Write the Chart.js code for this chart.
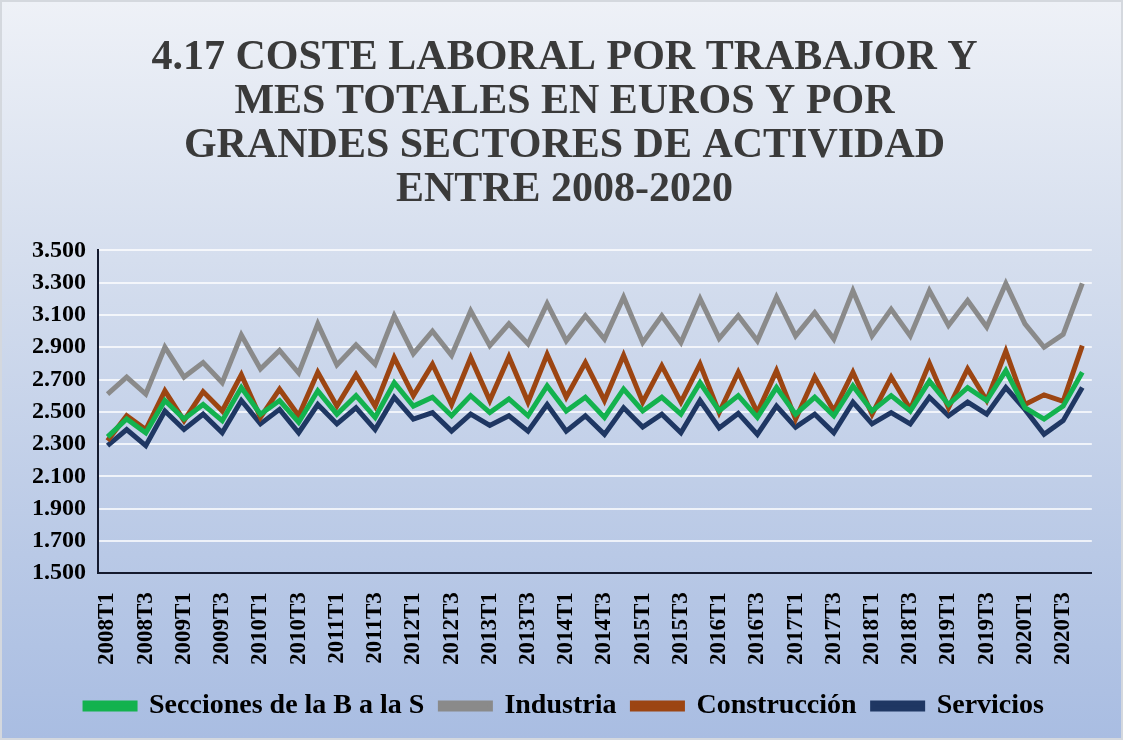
<!DOCTYPE html>
<html>
<head>
<meta charset="utf-8">
<script src="https://cdn.jsdelivr.net/npm/chart.js@4"></script>
<style>
  body { margin: 0; background: #fff; }
  #wrap {
    width: 1119px; height: 736px;
    border: 2px solid #d4d8de;
    background: linear-gradient(to bottom, #eef1f7 0%, #d5deee 35%, #b9c9e6 75%, #a9bde2 100%);
  }
  canvas { display: block; }
</style>
</head>
<body>
<div id="wrap"><canvas id="chart" width="1119" height="736"></canvas></div>
<script>
// ---- data ----
const quarters = [
  "2008T1","2008T2","2008T3","2008T4","2009T1","2009T2","2009T3","2009T4",
  "2010T1","2010T2","2010T3","2010T4","2011T1","2011T2","2011T3","2011T4",
  "2012T1","2012T2","2012T3","2012T4","2013T1","2013T2","2013T3","2013T4",
  "2014T1","2014T2","2014T3","2014T4","2015T1","2015T2","2015T3","2015T4",
  "2016T1","2016T2","2016T3","2016T4","2017T1","2017T2","2017T3","2017T4",
  "2018T1","2018T2","2018T3","2018T4","2019T1","2019T2","2019T3","2019T4",
  "2020T1","2020T2","2020T3","2020T4"
];

const seccionesBS = [2345,2455,2370,2570,2455,2545,2445,2650,2485,2570,2435,2630,2485,2600,2465,2680,
  2535,2590,2475,2600,2495,2580,2475,2660,2505,2590,2465,2640,2505,2590,2485,2680,
  2505,2600,2465,2650,2485,2590,2475,2660,2505,2600,2505,2690,2545,2650,2570,2755,
  2525,2455,2535,2745];

const industria = [2610,2715,2610,2900,2715,2805,2680,2975,2765,2880,2740,3045,2790,2915,2795,3095,
  2860,3000,2850,3125,2910,3045,2920,3170,2940,3095,2950,3210,2930,3095,2930,3200,
  2955,3095,2940,3210,2970,3115,2950,3250,2970,3135,2970,3250,3035,3190,3025,3295,
  3045,2900,2980,3295];

const construccion = [2320,2475,2390,2630,2445,2625,2505,2730,2465,2640,2475,2745,2535,2730,2535,2835,
  2600,2795,2545,2835,2570,2840,2560,2855,2590,2805,2570,2850,2560,2785,2560,2795,
  2495,2745,2495,2755,2455,2715,2505,2745,2485,2715,2515,2800,2525,2765,2570,2875,
  2545,2605,2565,2910];

const servicios = [2290,2390,2290,2505,2390,2485,2370,2570,2425,2515,2370,2545,2425,2525,2390,2590,
  2455,2495,2380,2485,2415,2475,2380,2545,2380,2475,2360,2525,2405,2485,2370,2570,
  2400,2490,2360,2535,2405,2485,2370,2560,2425,2495,2425,2590,2475,2560,2485,2650,
  2515,2360,2445,2650];

const yTicks = { min: 1500, max: 3500, step: 200 };

const serif = "'Liberation Serif', 'Times New Roman', serif";

function mkLine(label, data, color) {
  return {
    label: label,
    data: data,
    borderColor: color,
    backgroundColor: color,
    borderWidth: 5,
    pointRadius: 0,
    tension: 0
  };
}

new Chart(document.getElementById("chart"), {
  type: "line",
  data: {
    labels: quarters,
    datasets: [
      mkLine("Secciones de la B a la S", seccionesBS, "#13b24e"),
      mkLine("Industria", industria, "#8a8a8a"),
      mkLine("Construcción", construccion, "#9c4512"),
      mkLine("Servicios", servicios, "#1f3763")
    ]
  },
  options: {
    responsive: false,
    devicePixelRatio: 1,
    animation: false,
    layout: { padding: { left: 18, right: 12, top: 6, bottom: 8 } },
    plugins: {
      title: {
        display: true,
        text: [
          "4.17 COSTE LABORAL POR TRABAJOR Y",
          "MES TOTALES EN EUROS Y POR",
          "GRANDES SECTORES DE ACTIVIDAD",
          "ENTRE 2008-2020"
        ],
        color: "#3a3a3a",
        font: { family: serif, size: 42, weight: "bold", lineHeight: 1.05 },
        padding: { top: 28, bottom: 38 }
      },
      legend: {
        position: "bottom",
        labels: {
          color: "#000",
          font: { family: serif, size: 28, weight: "bold" },
          boxWidth: 50,
          boxHeight: 6,
          padding: 16
        }
      },
      tooltip: { enabled: false }
    },
    scales: {
      x: {
        offset: true,
        grid: { display: false },
        border: { color: "#141a2e", width: 2 },
        ticks: {
          autoSkip: false,
          minRotation: 90,
          maxRotation: 90,
          padding: 11,
          color: "#000",
          font: { family: serif, size: 23, weight: "bold" },
          callback: function (val, idx) {
            return idx % 2 === 0 ? quarters[idx] : "";
          }
        }
      },
      y: {
        min: yTicks.min,
        max: yTicks.max,
        grid: { color: "rgba(255,255,255,0.75)", lineWidth: 2, drawTicks: false },
        border: { color: "#141a2e", width: 2 },
        ticks: {
          stepSize: yTicks.step,
          autoSkip: false,
          padding: 12,
          color: "#000",
          font: { family: serif, size: 24, weight: "bold" },
          callback: function (v) {
            return v.toString().replace(/\B(?=(\d{3})+(?!\d))/g, ".");
          }
        }
      }
    }
  }
});
</script>
</body>
</html>
